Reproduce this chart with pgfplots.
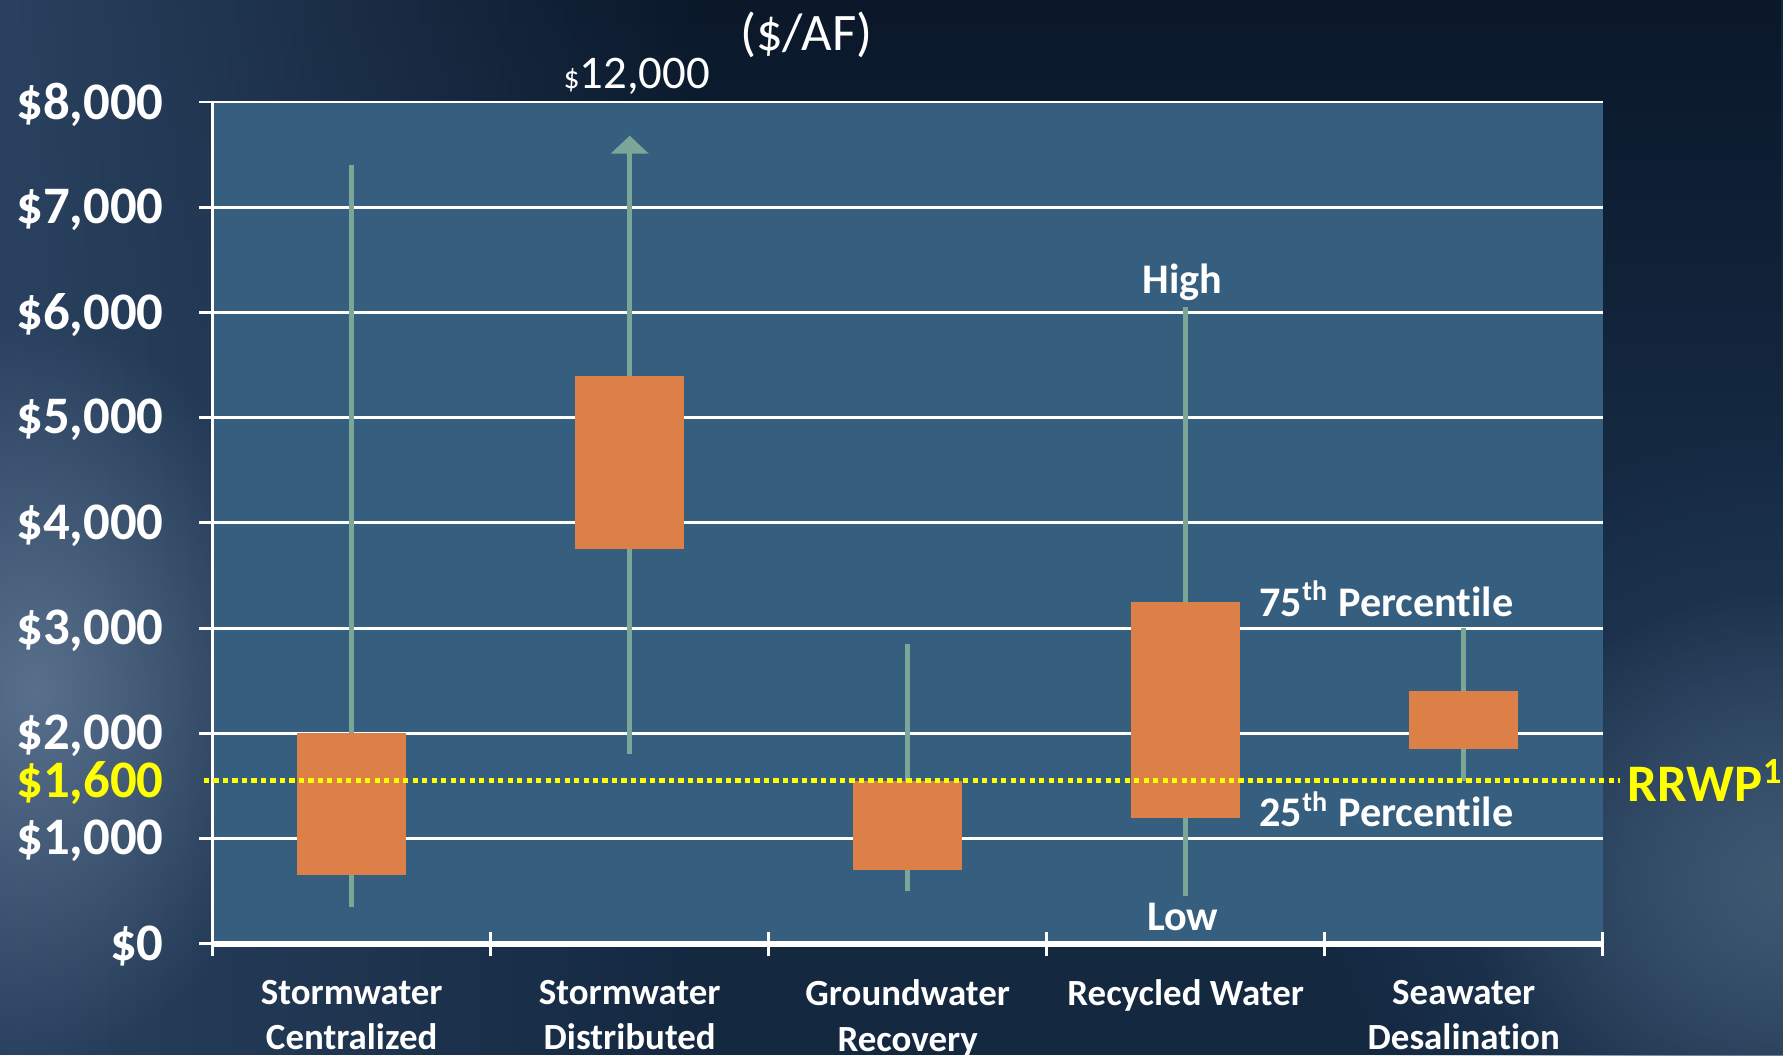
\documentclass[border=0pt]{standalone}
\usepackage{pgfplots}
\pgfplotsset{compat=1.18}
\usetikzlibrary{arrows.meta,fadings}
\usepackage{fontspec}
\setmainfont{Carlito}[Ligatures=NoCommon]

\definecolor{plotbg}{RGB}{54,94,127}
\definecolor{boxor}{RGB}{221,128,72}
\definecolor{whisk}{RGB}{124,166,152}
\definecolor{rryel}{RGB}{255,255,0}
\definecolor{bgbase}{RGB}{20,40,64}
\definecolor{bgtop}{RGB}{8,20,36}
\definecolor{bgleft}{RGB}{42,66,96}
\definecolor{bgglow}{RGB}{88,112,140}
\definecolor{bgglowr}{RGB}{62,88,114}

\tikzfading[name=glowfade, inner color=transparent!0, outer color=transparent!100]

\newcommand{\tickfont}{\fontsize{15}{18}\selectfont\bfseries}
\newcommand{\catfont}{\fontsize{10.5}{12.9}\selectfont\bfseries}
\newcommand{\notefont}{\fontsize{12}{14}\selectfont\bfseries}

\begin{document}
\begin{tikzpicture}
\begin{scope}[x=0.011371cm,y=0.011371cm]
  \fill[bgbase] (0,0) rectangle (1568,928);
  \fill[bgtop, opacity=0.8, path fading=south] (0,560) rectangle (1568,928);
  \fill[bgleft, path fading=east] (0,0) rectangle (620,928);
  \fill[bgleft, path fading=glowfade] (1568,180) ellipse (420 and 380);
  \fill[bgglow, path fading=glowfade] (30,320) ellipse (230 and 330);
  \fill[bgglowr, path fading=glowfade] (1568,150) ellipse (280 and 260);
\end{scope}

\begin{axis}[
  at={(2.1264cm,1.1144cm)}, anchor=south west,
  scale only axis, width=13.896cm, height=8.415cm,
  xmin=-0.5, xmax=4.5, ymin=0, ymax=8000,
  axis background/.style={fill=plotbg},
  axis x line*=bottom, axis y line*=left,
  axis line style={white, -},
  x axis line style={line width=1.6pt},
  y axis line style={line width=0.8pt},
  ytick={0,1000,2000,3000,4000,5000,6000,7000,8000},
  yticklabels={\$0,\$1{,}000,\$2{,}000,\$3{,}000,\$4{,}000,\$5{,}000,\$6{,}000,\$7{,}000,\$8{,}000},
  extra y ticks={1550},
  extra y tick labels={\$1{,}600},
  extra y tick style={grid=none, major tick style={draw=none}, yticklabel style={text=rryel}},
  ymajorgrids, grid style={white, line width=0.8pt},
  xtick={0,1,2,3,4},
  xticklabels={{Stormwater\\Centralized},{Stormwater\\Distributed},{Groundwater\\Recovery},{Recycled Water},{Seawater\\Desalination}},
  minor xtick={-0.5,0.5,1.5,2.5,3.5,4.5},
  tick align=center,
  major tick length=0.273cm, minor tick length=0.24cm,
  major x tick style={draw=none},
  tick style={white, line width=0.8pt},
  yticklabel style={font=\tickfont, text=white, xshift=-0.23cm, yshift=-0.025cm},
  xticklabel style={font=\catfont, text=white, align=center, anchor=north, yshift=-0.1cm},
  clip=false,
]
% whiskers (low to high)
\addplot[whisk, line width=1.3pt] coordinates {(0,350) (0,7400)};
\addplot[whisk, line width=1.3pt, -{Triangle[width=0.37cm,length=0.18cm]}] coordinates {(1,1800) (1,7680)};
\addplot[whisk, line width=1.3pt] coordinates {(2,500) (2,2850)};
\addplot[whisk, line width=1.3pt] coordinates {(3,450) (3,6050)};
\addplot[whisk, line width=1.3pt] coordinates {(4,1550) (4,3000)};
% boxes (25th to 75th percentile)
\addplot[fill=boxor, draw=none] coordinates {(-0.1965,650) (0.1965,650) (0.1965,2000) (-0.1965,2000)} -- cycle;
\addplot[fill=boxor, draw=none] coordinates {(0.8035,3750) (1.1965,3750) (1.1965,5400) (0.8035,5400)} -- cycle;
\addplot[fill=boxor, draw=none] coordinates {(1.8035,700) (2.1965,700) (2.1965,1550) (1.8035,1550)} -- cycle;
\addplot[fill=boxor, draw=none] coordinates {(2.8035,1200) (3.1965,1200) (3.1965,3250) (2.8035,3250)} -- cycle;
\addplot[fill=boxor, draw=none] coordinates {(3.8035,1850) (4.1965,1850) (4.1965,2400) (3.8035,2400)} -- cycle;
% RRWP line
\addplot[rryel, line width=1.5pt, dash pattern=on 1.5pt off 1.2pt] coordinates {(-0.532,1550) (4.562,1550)};
\end{axis}

\begin{scope}[x=0.011371cm,y=0.011371cm]
  \node[anchor=base, inner sep=0, text=white, font=\fontsize{15}{18}\selectfont] at (709,884) {(\$/AF)};
  \node[anchor=base west, inner sep=0, text=white, font=\fontsize{13.3}{16}\selectfont] at (495,850.5) {{\fontsize{9}{10}\selectfont\$}12,000};
  \node[anchor=base, inner sep=0, text=white, font=\notefont] at (1040,670) {High};
  \node[anchor=base, inner sep=0, text=white, font=\notefont] at (1040,110) {Low};
  \node[anchor=base west, inner sep=0, text=white, font=\notefont] at (1107,386) {75\textsuperscript{th} Percentile};
  \node[anchor=base west, inner sep=0, text=white, font=\notefont] at (1107,201) {25\textsuperscript{th} Percentile};
  \node[anchor=base west, inner sep=0, text=rryel, font=\tickfont] at (1431,223) {RRWP\textsuperscript{1}};
  \pgfresetboundingbox
  \path[use as bounding box] (0,0) rectangle (1568,928);
\end{scope}
\end{tikzpicture}
\end{document}
